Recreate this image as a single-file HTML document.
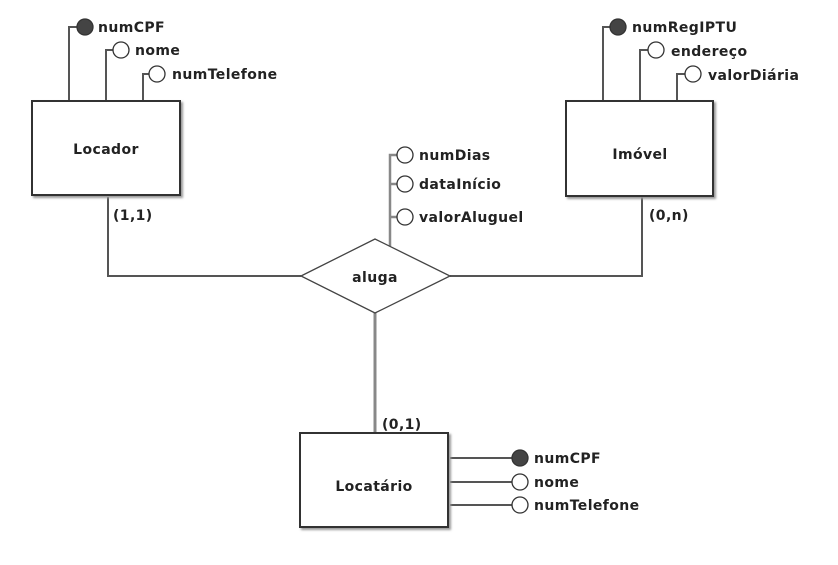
<!DOCTYPE html>
<html><head><meta charset="utf-8"><style>
html,body{margin:0;padding:0;background:#fff;}
svg text{font-family:"DejaVu Sans","Liberation Sans",sans-serif;font-weight:bold;font-size:14px;letter-spacing:0.4px;fill:#222;}
</style></head><body>
<svg width="838" height="560" viewBox="0 0 838 560" xmlns="http://www.w3.org/2000/svg">
<defs><filter id="sh" x="-10%" y="-10%" width="130%" height="130%"><feDropShadow dx="2" dy="2" stdDeviation="1" flood-color="#999"/></filter></defs>
<g stroke="#555" stroke-width="2" fill="none">
<path d="M69 101V27H77"/><path d="M106 101V50H113"/><path d="M143 101V74H149"/>
<path d="M603 101V27H610"/><path d="M640 101V50H648"/><path d="M677 101V74H685"/>
<path d="M108 197V276H301"/><path d="M642 197V276H450"/>
<path d="M375 313V433" stroke="#888" stroke-width="3"/>
<path d="M390 246V155H397M390 184H397M390 217H397" stroke="#888" stroke-width="2.5"/>
<path d="M450 458H512M450 482H512M450 505H512"/>
</g>
<g stroke="#333" stroke-width="2" fill="#fff" filter="url(#sh)">
<rect x="32" y="101" width="148" height="94"/>
<rect x="566" y="101" width="147" height="95"/>
<rect x="300" y="433" width="148" height="94"/>
</g>
<polygon points="301,276 375,239 450,276 375,313" fill="#fff" stroke="#444" stroke-width="1.3"/>
<g stroke="#333" stroke-width="1.3">
<circle cx="85" cy="27" r="8" fill="#444"/><circle cx="121" cy="50" r="8" fill="#fff"/><circle cx="157" cy="74" r="8" fill="#fff"/>
<circle cx="618" cy="27" r="8" fill="#444"/><circle cx="656" cy="50" r="8" fill="#fff"/><circle cx="693" cy="74" r="8" fill="#fff"/>
<circle cx="405" cy="155" r="8" fill="#fff"/><circle cx="405" cy="184" r="8" fill="#fff"/><circle cx="405" cy="217" r="8" fill="#fff"/>
<circle cx="520" cy="458" r="8" fill="#444"/><circle cx="520" cy="482" r="8" fill="#fff"/><circle cx="520" cy="505" r="8" fill="#fff"/>
</g>
<text x="98" y="32">numCPF</text><text x="135" y="55">nome</text><text x="172" y="79">numTelefone</text>
<text x="632" y="32">numRegIPTU</text><text x="671" y="56">endereço</text><text x="708" y="80">valorDiária</text>
<text x="419" y="160">numDias</text><text x="419" y="189">dataInício</text><text x="419" y="222">valorAluguel</text>
<text x="534" y="463">numCPF</text><text x="534" y="487">nome</text><text x="534" y="510">numTelefone</text>
<text x="106" y="154" text-anchor="middle">Locador</text>
<text x="640" y="159" text-anchor="middle">Imóvel</text>
<text x="374" y="491" text-anchor="middle">Locatário</text>
<text x="375" y="282" text-anchor="middle">aluga</text>
<text x="113" y="220">(1,1)</text><text x="649" y="220">(0,n)</text><text x="382" y="429">(0,1)</text>
</svg>
</body></html>
